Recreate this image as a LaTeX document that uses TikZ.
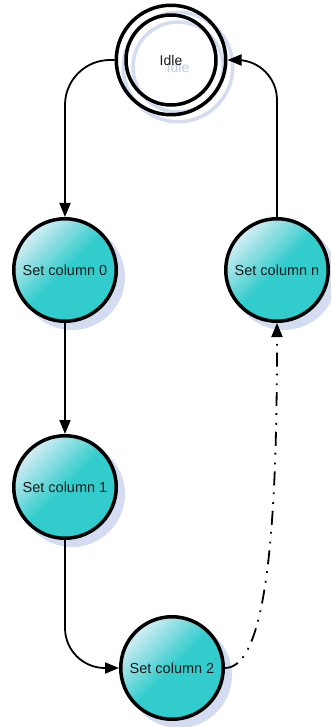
\documentclass[tikz,border=0pt]{standalone}
\usepackage{fontspec}
\setmainfont{Liberation Sans}
\usetikzlibrary{arrows.meta, backgrounds}
\definecolor{statecyan}{HTML}{33CCCC}
\definecolor{statelight}{HTML}{D4EEF4}
\definecolor{shadowblue}{HTML}{D3DCF0}
\definecolor{shadowtext}{HTML}{BCCDEB}
\definecolor{inkgray}{HTML}{1A1A1A}
\tikzset{
  state/.style={circle, draw=black, line width=3.5pt, minimum size=102.5pt, inner sep=0pt,
                top color=statelight, bottom color=statecyan, middle color=statecyan,
                shading angle=45, text=inkgray, font=\fontsize{14.5}{17}\selectfont},
  idlestate/.style={circle, draw=black, line width=3.5pt, minimum size=109.5pt, inner sep=0pt,
                text=inkgray, font=\fontsize{14}{17}\selectfont},
  idleshadow/.style={idlestate, draw=shadowblue, text=shadowtext},
  arrow/.style={-{Triangle[length=14pt, width=11pt]}, line width=1.8pt, color=black},
  dashdot/.style={arrow, dash pattern=on 14pt off 7pt on 1.8pt off 8pt on 1.8pt off 7pt},
}

\begin{document}
\begin{tikzpicture}[x=1pt, y=-1pt]
  \useasboundingbox (0,0) rectangle (330,727);

  % states
  \node[idlestate] (idle) at (171,60)  {Idle};
  \node[state]     (col0) at (65,270)  {Set column 0};
  \node[state]     (coln) at (277,270) {Set column n};
  \node[state]     (col1) at (65,487)  {Set column 1};
  \node[state]     (col2) at (172,668) {Set column 2};
  \draw[line width=3.5pt] (idle.center) circle (45);

  % shadows behind everything
  \begin{scope}[on background layer]
    \node[idleshadow] at ([shift={(7,7)}]idle.center) {Idle};
    \draw[shadowblue, line width=3.5pt] ([shift={(7,7)}]idle.center) circle (45);
    \foreach \s in {col0, coln, col1, col2}
      \fill[shadowblue] ([shift={(7,7)}]\s.center) circle (53);
  \end{scope}

  % transitions
  \draw[arrow, rounded corners=45pt] (idle.west) -| (col0.north);
  \draw[arrow] (col0) -- (col1);
  \draw[arrow, rounded corners=40pt] (col1.south) |- (col2.west);
  \draw[dashdot] (col2.east) .. controls +(45,0) and +(0,180) .. (coln.south);
  \draw[arrow, rounded corners=40pt] (coln.north) |- (idle.east);
\end{tikzpicture}
\end{document}
